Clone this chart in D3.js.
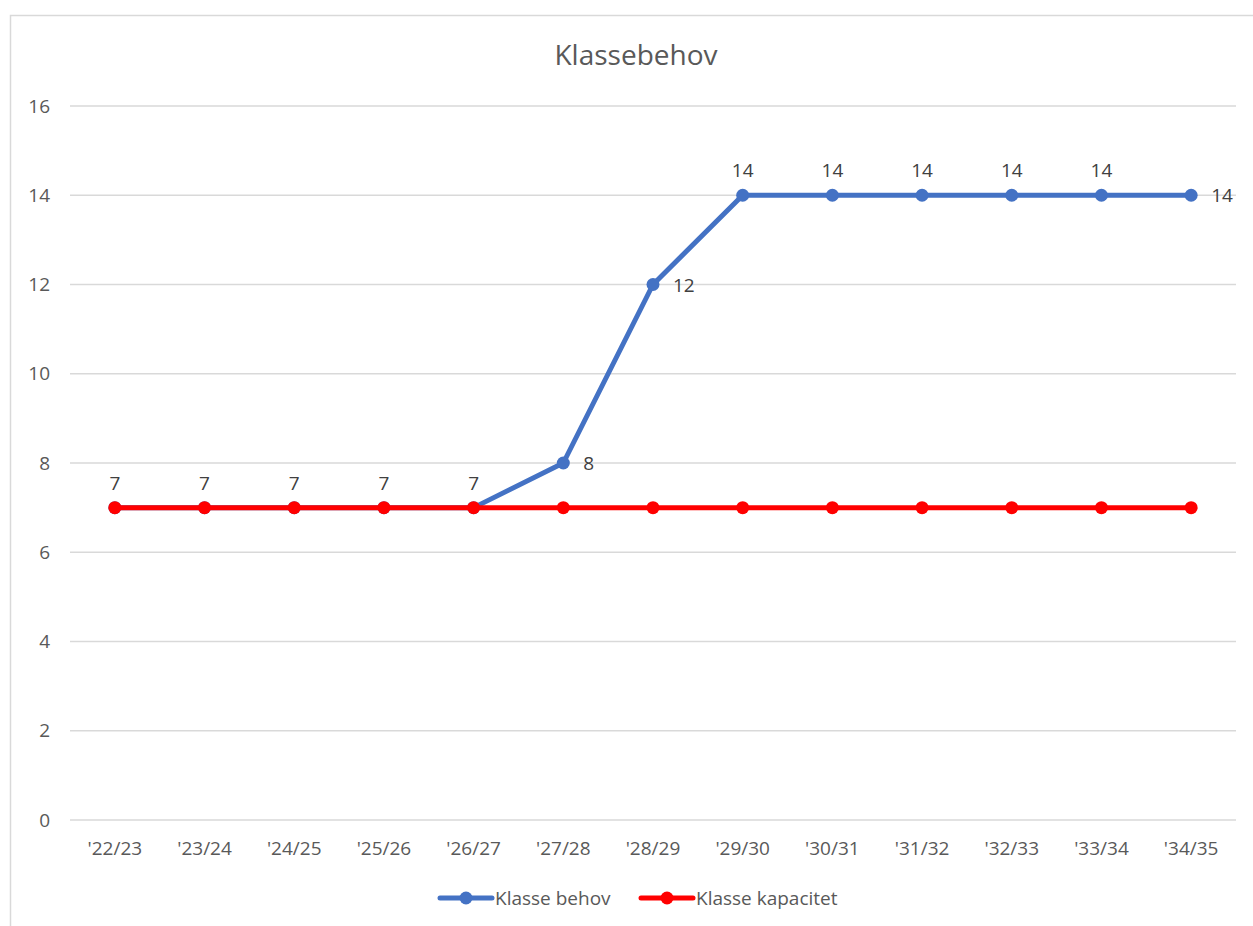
<!DOCTYPE html>
<html>
<head>
<meta charset="utf-8">
<script src="https://cdn.jsdelivr.net/npm/d3@7"></script>
<style>
  body { margin: 0; background: #fff; }
  svg text { font-family: "Open Sans", "Noto Sans", sans-serif; }
</style>
</head>
<body>
<div class="chart"></div>
<script>
// data
var categories = ["'22/23", "'23/24", "'24/25", "'25/26", "'26/27", "'27/28", "'28/29",
                  "'29/30", "'30/31", "'31/32", "'32/33", "'33/34", "'34/35"];
var behov     = [7, 7, 7, 7, 7, 8, 12, 14, 14, 14, 14, 14, 14];
var kapacitet = [7, 7, 7, 7, 7, 7, 7, 7, 7, 7, 7, 7, 7];
var yTicks    = [0, 2, 4, 6, 8, 10, 12, 14, 16];
// where each "behov" label sits
var labelPos  = ["top", "top", "top", "top", "top", "right", "right",
                 "top", "top", "top", "top", "top", "right"];

var series = [
  {name: "Klasse behov", values: behov, color: "#4472C4"},
  {name: "Klasse kapacitet", values: kapacitet, color: "#FF0000"}
];

var width = 1253, height = 926;
var margin = {top: 106, right: 17, bottom: 106, left: 70};
var fontSize = "19px";

var svg = d3.select(".chart")
  .append("svg")
    .attr("width", width)
    .attr("height", height);

// chart frame
svg.append("rect")
  .attr("x", 10.5).attr("y", 15.5)
  .attr("width", 1260).attr("height", 940)
  .attr("fill", "none")
  .attr("stroke", "#d9d9d9")
  .attr("stroke-width", 1.5);

var xScale = d3.scaleBand()
  .domain(categories)
  .range([margin.left, width - margin.right]);

var yScale = d3.scaleLinear()
  .domain([0, 16])
  .range([height - margin.bottom, margin.top]);

// gridlines
svg.append("g")
  .selectAll("line")
  .data(yTicks)
  .enter().append("line")
    .attr("x1", margin.left)
    .attr("x2", width - margin.right)
    .attr("y1", function(d) { return yScale(d); })
    .attr("y2", function(d) { return yScale(d); })
    .attr("stroke", "#d9d9d9")
    .attr("stroke-width", 1.5);

// y axis
var yAxis = d3.axisLeft(yScale).tickValues(yTicks).tickSize(0).tickPadding(0);
svg.append("g")
  .attr("transform", "translate(50,0)")
  .call(yAxis)
  .call(function(g) { g.select(".domain").remove(); })
  .selectAll("text")
    .attr("fill", "#595959")
    .style("font-size", fontSize);

// x axis
var xAxis = d3.axisBottom(xScale).tickSize(0).tickPadding(0);
svg.append("g")
  .attr("transform", "translate(0," + (height - margin.bottom + 21) + ")")
  .call(xAxis)
  .call(function(g) { g.select(".domain").remove(); })
  .selectAll("text")
    .attr("fill", "#595959")
    .style("font-size", fontSize);

var line = d3.line()
  .x(function(d, i) { return xScale(categories[i]) + xScale.bandwidth() / 2; })
  .y(function(d) { return yScale(d); });

// draw kapacitet last so it sits on top, like the picture
series.forEach(function(s) {
  var g = svg.append("g");
  g.append("path")
    .datum(s.values)
    .attr("d", line)
    .attr("fill", "none")
    .attr("stroke", s.color)
    .attr("stroke-width", 5)
    .attr("stroke-linejoin", "round");
  g.selectAll("circle")
    .data(s.values)
    .enter().append("circle")
      .attr("cx", function(d, i) { return xScale(categories[i]) + xScale.bandwidth() / 2; })
      .attr("cy", function(d) { return yScale(d); })
      .attr("r", 6.5)
      .attr("fill", s.color);
});

// data labels for behov
svg.append("g")
  .selectAll("text")
  .data(behov)
  .enter().append("text")
    .attr("x", function(d, i) {
      var cx = xScale(categories[i]) + xScale.bandwidth() / 2;
      return labelPos[i] == "right" ? cx + 20 : cx;
    })
    .attr("y", function(d, i) {
      var cy = yScale(d);
      return labelPos[i] == "right" ? cy + 7 : cy - 18;
    })
    .attr("text-anchor", function(d, i) { return labelPos[i] == "right" ? "start" : "middle"; })
    .attr("fill", "#404040")
    .style("font-size", fontSize)
    .text(function(d) { return d; });

// title
svg.append("text")
  .attr("x", 636)
  .attr("y", 65)
  .attr("text-anchor", "middle")
  .attr("fill", "#595959")
  .style("font-size", "28px")
  .text("Klassebehov");

// legend
var legend = svg.append("g").attr("transform", "translate(440,898)");
var legendX = [0, 201];
series.forEach(function(s, i) {
  var lg = legend.append("g").attr("transform", "translate(" + legendX[i] + ",0)");
  lg.append("line")
    .attr("x1", 0).attr("x2", 52)
    .attr("stroke", s.color)
    .attr("stroke-width", 5)
    .attr("stroke-linecap", "round");
  lg.append("circle").attr("cx", 26).attr("r", 6.5).attr("fill", s.color);
  lg.append("text")
    .attr("x", 55).attr("y", 7)
    .attr("fill", "#595959")
    .style("font-size", fontSize)
    .text(s.name);
});
</script>
</body>
</html>
